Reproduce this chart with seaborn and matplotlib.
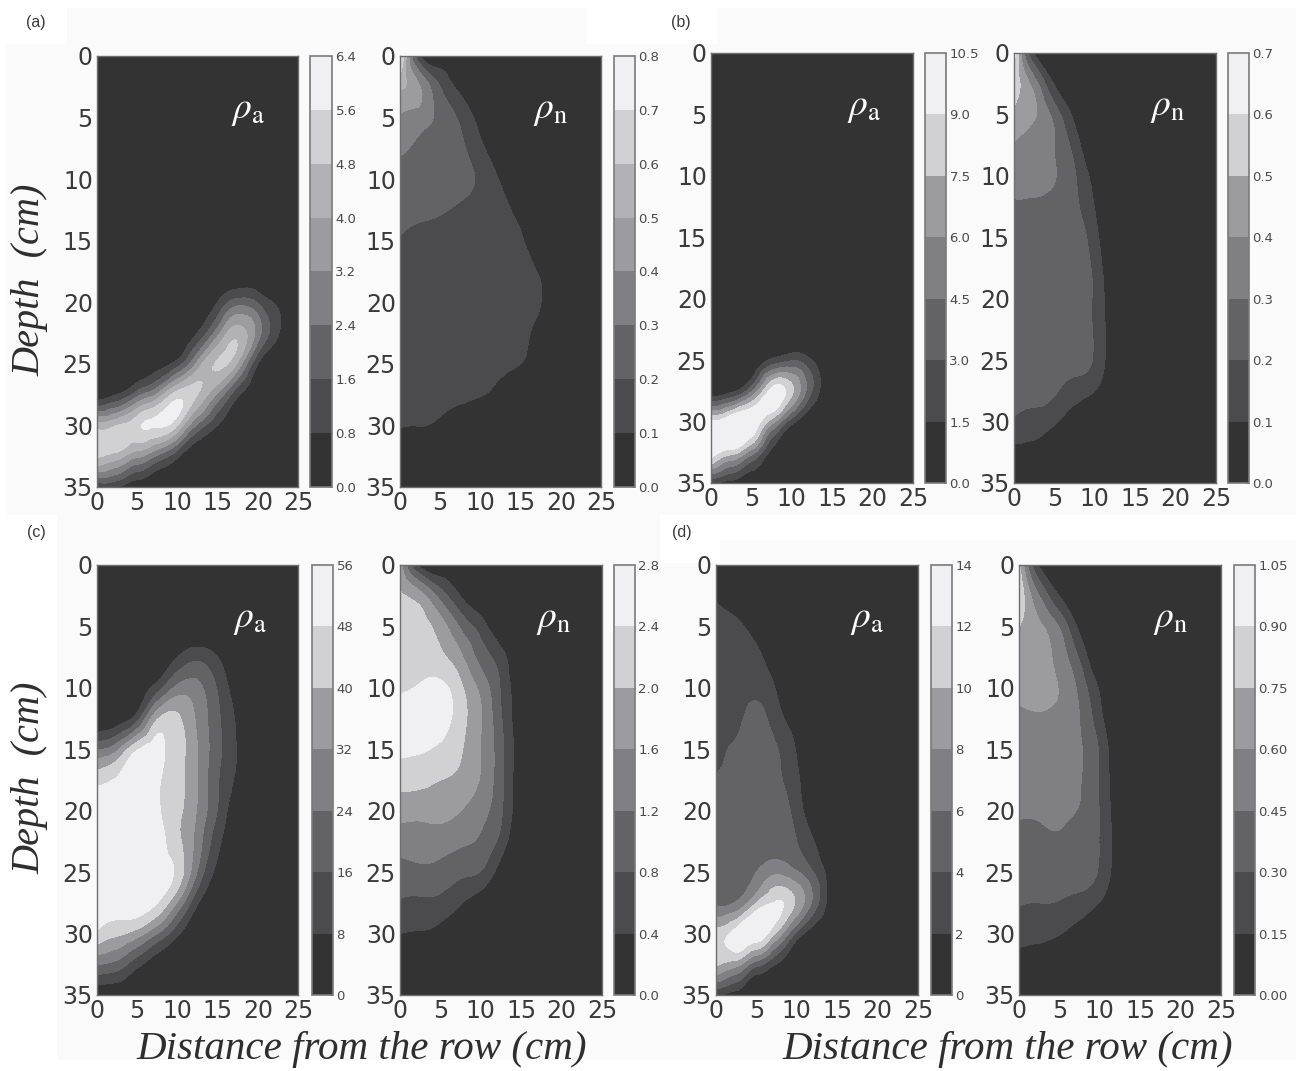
import matplotlib
matplotlib.use("Agg")
import matplotlib.pyplot as plt
import matplotlib.tri as mtri
from matplotlib.patches import Rectangle
from matplotlib.colors import ListedColormap
import numpy as np
import seaborn as sns

W, H = 1307, 1071
distance = [0, 2.5, 5, 7.5, 10, 12.5, 15, 17.5, 20, 22.5, 25]
depth = [0, 2.5, 5, 7.5, 10, 12.5, 15, 17.5, 20, 22.5, 25, 27.5, 30, 32.5, 35]
x_ticks = [0, 5, 10, 15, 20, 25]
y_ticks = [0, 5, 10, 15, 20, 25, 30, 35]

# field values, in multiples of each panel's contour step
a_rho_a = [
 [0,0,0,0,0,0,0,0,0,0,0],[0,0,0,0,0,0,0,0,0,0,0],[0,0,0,0,0,0,0,0,0,0,0],[0,0,0,0,0,0,0,0,0,0,0],
 [0,0,0,0,0,0,0,0,0,0,0],[0,0,0,0,0,0,0,0,0,0,0],[0,0,0,0,0,0,0,0,0,0,0],[0,0,0,0,0,0,0,0,0,0,0],
 [0,0,0,0,0,0,1.0,2.5,1.9,.8,0],
 [0,0,0,0,0,1.0,3.6,5.6,3.5,1.1,0],
 [0,0,0,.5,1.5,4.3,6.1,4.8,1.0,0,0],
 [.2,1,2.6,4.2,6.5,6.0,3.8,1.2,0,0,0],
 [5.5,6.0,6.7,7.1,6,2.8,1,0,0,0,0],
 [6.2,5.5,4.2,2.8,1.2,0,0,0,0,0,0],
 [1,1,.2,0,0,0,0,0,0,0,0]]
a_rho_n = [
 [7.5,.9,.2,0,0,0,0,0,0,0,0],
 [5.2,4.0,2.0,.7,0,0,0,0,0,0,0],
 [3.9,3.5,2.7,1.8,.6,0,0,0,0,0,0],
 [3.1,2.8,2.5,2.2,1.25,.3,0,0,0,0,0],
 [2.7,2.6,2.45,2.3,1.8,.9,.2,0,0,0,0],
 [2.25,2.2,2.1,1.85,1.6,1.25,.7,0,0,0,0],
 [1.95,1.75,1.65,1.6,1.5,1.3,1.1,.3,0,0,0],
 [1.65,1.6,1.55,1.5,1.45,1.35,1.25,.85,0,0,0],
 [1.55,1.5,1.45,1.4,1.4,1.35,1.25,1.02,0,0,0],
 [1.5,1.45,1.4,1.35,1.3,1.25,1.22,.6,0,0,0],
 [1.4,1.4,1.35,1.3,1.25,1.2,1.0,.2,0,0,0],
 [1.3,1.3,1.25,1.2,1.05,.6,0,0,0,0,0],
 [1.05,1.02,.8,.4,.1,0,0,0,0,0,0],
 [.3,.2,.1,0,0,0,0,0,0,0,0],
 [0,0,0,0,0,0,0,0,0,0,0]]
b_rho_a = [
 [0,0,0,0,0,0,0,0,0,0,0],[0,0,0,0,0,0,0,0,0,0,0],[0,0,0,0,0,0,0,0,0,0,0],[0,0,0,0,0,0,0,0,0,0,0],
 [0,0,0,0,0,0,0,0,0,0,0],[0,0,0,0,0,0,0,0,0,0,0],[0,0,0,0,0,0,0,0,0,0,0],[0,0,0,0,0,0,0,0,0,0,0],
 [0,0,0,0,0,0,0,0,0,0,0],[0,0,0,0,0,0,0,0,0,0,0],
 [0,0,0,1.2,1.9,1.0,0,0,0,0,0],
 [0,.7,2.8,6.4,5.2,2.0,0,0,0,0,0],
 [6.2,7.2,7.0,4.5,1.4,0,0,0,0,0,0],
 [6.8,5.5,3.5,.7,0,0,0,0,0,0,0],
 [.9,.6,0,0,0,0,0,0,0,0,0]]
b_rho_n = [
 [6.5,.8,0,0,0,0,0,0,0,0,0],
 [5.6,3.5,.9,0,0,0,0,0,0,0,0],
 [4.8,4.1,2.6,.7,0,0,0,0,0,0,0],
 [3.9,3.5,3.0,1.55,0,0,0,0,0,0,0],
 [3.4,3.3,3.05,2.1,.6,0,0,0,0,0,0],
 [2.85,2.85,2.7,2.25,.95,0,0,0,0,0,0],
 [2.6,2.6,2.55,2.55,1.35,0,0,0,0,0,0],
 [2.5,2.5,2.45,2.5,1.7,0,0,0,0,0,0],
 [2.45,2.45,2.4,2.4,1.8,.2,0,0,0,0,0],
 [2.4,2.4,2.35,2.35,1.85,.25,0,0,0,0,0],
 [2.35,2.35,2.3,2.25,1.85,.2,0,0,0,0,0],
 [2.2,2.2,2.1,1.55,1.0,0,0,0,0,0,0],
 [1.85,1.65,1.15,.4,0,0,0,0,0,0,0],
 [.7,.55,.1,0,0,0,0,0,0,0,0],
 [0,0,0,0,0,0,0,0,0,0,0]]
c_rho_a = [
 [0,0,0,0,0,0,0,0,0,0,0],[0,0,0,0,0,0,0,0,0,0,0],[0,0,0,0,0,0,0,0,0,0,0],
 [0,0,0,0,1.0,1.7,1.0,0,0,0,0],
 [0,0,.4,1.5,3.3,3.3,1.9,.4,0,0,0],
 [0,.4,1.6,4.9,5.2,3.8,2.2,.8,0,0,0],
 [2.9,3.8,5.9,6.3,5.5,4.0,2.3,.9,0,0,0],
 [5.7,6.1,6.4,6.1,5.4,4.0,2.1,.75,0,0,0],
 [6.6,6.6,6.5,6.1,5.3,3.9,1.95,.2,0,0,0],
 [6.6,6.6,6.5,6.3,5.3,3.55,1.3,0,0,0,0],
 [6.6,6.6,6.5,6.4,5.7,2.9,.7,0,0,0,0],
 [6.5,6.5,6.6,6.0,3.9,1.1,0,0,0,0,0],
 [5.8,5.2,4.5,3.0,1.2,0,0,0,0,0,0],
 [3.0,2.6,1.3,.3,0,0,0,0,0,0,0],
 [0,0,0,0,0,0,0,0,0,0,0]]
c_rho_n = [
 [4.5,.6,0,0,0,0,0,0,0,0,0],
 [5.1,4.4,2.6,.95,0,0,0,0,0,0,0],
 [5.4,5.3,4.5,2.85,1.5,.2,0,0,0,0,0],
 [5.6,5.5,5.2,4.2,2.6,1.4,0,0,0,0,0],
 [5.9,6.1,6.3,5.2,3.7,1.9,.3,0,0,0,0],
 [6.3,6.5,6.5,5.4,4.05,2.1,.35,0,0,0,0],
 [6.2,6.1,5.8,5.1,4.0,2.3,.4,0,0,0,0],
 [5.35,5.3,5.0,4.75,3.9,2.25,.35,0,0,0,0],
 [4.4,4.3,4.3,4.0,3.35,2.15,.25,0,0,0,0],
 [3.45,3.5,3.5,3.2,2.85,1.6,0,0,0,0,0],
 [2.6,2.75,2.6,2.2,1.95,.5,0,0,0,0,0],
 [1.9,1.8,1.7,1.1,.4,0,0,0,0,0,0],
 [1.0,.9,.6,0,0,0,0,0,0,0,0],
 [0,0,0,0,0,0,0,0,0,0,0],
 [0,0,0,0,0,0,0,0,0,0,0]]
d_rho_a = [
 [0,0,0,0,0,0,0,0,0,0,0],
 [.9,.5,0,0,0,0,0,0,0,0,0],
 [1.15,1.15,.6,0,0,0,0,0,0,0,0],
 [1.3,1.3,1.2,.4,0,0,0,0,0,0,0],
 [1.4,1.45,1.7,.9,0,0,0,0,0,0,0],
 [1.6,1.75,2.3,1.45,.4,0,0,0,0,0,0],
 [1.75,2.1,2.2,2.05,.9,0,0,0,0,0,0],
 [2.05,2.2,2.25,2.2,1.2,0,0,0,0,0,0],
 [2.15,2.25,2.3,2.5,1.55,0,0,0,0,0,0],
 [2.3,2.35,2.45,2.5,2.0,.8,0,0,0,0,0],
 [2.7,2.75,3.0,3.8,3.1,1.7,0,0,0,0,0],
 [2.8,3.1,5.0,6.1,4.8,2.2,0,0,0,0,0],
 [5.5,6.5,6.9,4.8,1.75,.3,0,0,0,0,0],
 [5.2,4.4,2.4,.95,0,0,0,0,0,0,0],
 [1.0,.5,0,0,0,0,0,0,0,0,0]]
d_rho_n = [
 [5.2,.8,0,0,0,0,0,0,0,0,0],
 [5.8,3.0,.95,0,0,0,0,0,0,0,0],
 [5.0,4.15,2.9,.7,0,0,0,0,0,0,0],
 [4.6,4.4,3.6,1.85,0,0,0,0,0,0,0],
 [4.2,4.3,3.95,2.7,.85,0,0,0,0,0,0],
 [3.85,3.9,3.7,3.0,1.3,0,0,0,0,0,0],
 [3.6,3.55,3.45,3.1,1.85,.1,0,0,0,0,0],
 [3.35,3.35,3.3,3.05,1.85,.25,0,0,0,0,0],
 [3.1,3.1,3.15,2.95,1.95,.3,0,0,0,0,0],
 [2.75,2.8,2.85,2.6,1.95,.4,0,0,0,0,0],
 [2.45,2.45,2.4,2.35,1.85,.3,0,0,0,0,0],
 [2.05,2.0,1.95,1.65,.95,0,0,0,0,0,0],
 [1.4,1.3,1.05,.5,0,0,0,0,0,0,0],
 [.55,.4,.1,0,0,0,0,0,0,0,0],
 [0,0,0,0,0,0,0,0,0,0,0]]

a_a_ticks = ["0.0","0.8","1.6","2.4","3.2","4.0","4.8","5.6","6.4"]
a_n_ticks = ["0.0","0.1","0.2","0.3","0.4","0.5","0.6","0.7","0.8"]
b_a_ticks = ["0.0","1.5","3.0","4.5","6.0","7.5","9.0","10.5"]
b_n_ticks = ["0.0","0.1","0.2","0.3","0.4","0.5","0.6","0.7"]
c_a_ticks = ["0","8","16","24","32","40","48","56"]
c_n_ticks = ["0.0","0.4","0.8","1.2","1.6","2.0","2.4","2.8"]
d_a_ticks = ["0","2","4","6","8","10","12","14"]
d_n_ticks = ["0.00","0.15","0.30","0.45","0.60","0.75","0.90","1.05"]

sns.set_theme(style="white", rc={"axes.grid": False})
INK = "#3a3a3a"
FRAME = "#6e6e6e"
ramp = ["#333333", "#4b4b4d", "#636365", "#808084", "#9c9ca0", "#b2b2b6", "#d1d1d4", "#f0f0f2"]

fig = plt.figure(figsize=(W / 100, H / 100), dpi=100, facecolor="white")


def frac(x0, y0, x1, y1):
    return [x0 / W, 1 - y1 / H, (x1 - x0) / W, (y1 - y0) / H]


for (x0, y0, x1, y1) in [(6, 44, 660, 515), (67, 8, 587, 44), (717, 8, 1296, 515), (660, 44, 1296, 515),
                         (57, 515, 660, 1060), (720, 540, 1296, 1060), (660, 563, 720, 1060)]:
    l, b, w, h = frac(x0, y0, x1, y1)
    fig.add_artist(Rectangle((l, b), w, h, transform=fig.transFigure, fc="#fafafa", ec="none", zorder=-5))

X, Y = np.meshgrid(distance, depth)
tri_mesh = mtri.Triangulation(X.ravel(), Y.ravel())
refiner = mtri.UniformTriRefiner(tri_mesh)


def panel(grid, step, labels, box, cbox, sub, tx):
    n = len(labels) - 1
    cs_levels = [step * k for k in range(n + 1)]
    if n == 7:
        cols = sns.blend_palette(ramp[:4] + [ramp[4]] + ramp[6:], n)
    else:
        cols = ramp
    ax = fig.add_axes(frac(*box))
    Z = np.array(grid, dtype=float) * step
    # smooth contouring of the read values, drawn by matplotlib's own refiner
    fine_tri, fine_z = refiner.refine_field(Z.ravel(), subdiv=3)
    fine_z = np.clip(fine_z, 0, cs_levels[-1] * 0.999)
    cs = ax.tricontourf(fine_tri, fine_z, levels=cs_levels, cmap=ListedColormap(cols))
    ax.set_xlim(0, 25)
    ax.set_ylim(35, 0)
    ax.set_xticks(x_ticks)
    ax.set_yticks(y_ticks)
    ax.tick_params(axis="both", direction="in", length=2, width=.6, color=FRAME,
                   labelsize=17, labelcolor=INK, pad=3)
    for s in ax.spines.values():
        s.set_color(FRAME)
        s.set_linewidth(1.0)
    ax.text(tx, .875, r"$\rho_{\mathrm{%s}}$" % sub, transform=ax.transAxes, color="white",
            fontsize=27, ha="center", va="center", math_fontfamily="stix")
    cax = fig.add_axes(frac(*cbox))
    cb = fig.colorbar(cs, cax=cax)
    cb.set_ticks(cs_levels)
    cb.set_ticklabels(labels)
    cb.ax.tick_params(direction="in", length=2.5, width=.6, color=FRAME, labelsize=9.5, labelcolor="#4a4a4a", pad=2.5)
    cb.outline.set_edgecolor("#7a7a7a")
    cb.outline.set_linewidth(1.2)
    return ax


panel(a_rho_a, 0.8, a_a_ticks, (97, 56, 298, 487), (310, 56, 332, 487), "a", .75)
panel(a_rho_n, 0.1, a_n_ticks, (400, 56, 601, 487), (614, 56, 635, 487), "n", .75)
panel(b_rho_a, 1.5, b_a_ticks, (711, 53, 913, 483), (925, 53, 946, 483), "a", .76)
panel(b_rho_n, 0.1, b_n_ticks, (1014, 53, 1216, 483), (1228, 53, 1249, 483), "n", .76)
panel(c_rho_a, 8, c_a_ticks, (97, 565, 298, 995), (312, 565, 333, 995), "a", .76)
panel(c_rho_n, 0.4, c_n_ticks, (400, 565, 602, 995), (614, 565, 635, 995), "n", .76)
panel(d_rho_a, 2, d_a_ticks, (716, 565, 918, 995), (931, 565, 952, 995), "a", .75)
panel(d_rho_n, 0.15, d_n_ticks, (1019, 565, 1221, 995), (1234, 565, 1255, 995), "n", .75)

serif = dict(family="Liberation Serif", style="italic", color="#2e2e2e", ha="center", va="center")
fig.text(30 / W, 1 - 280 / H, "Depth  (cm)", rotation=90, fontsize=29, **serif)
fig.text(30 / W, 1 - 778 / H, "Depth  (cm)", rotation=90, fontsize=29, **serif)
fig.text(362 / W, 1 - 1050 / H, "Distance from the row (cm)", fontsize=29.5, **serif)
fig.text(1008 / W, 1 - 1050 / H, "Distance from the row (cm)", fontsize=29.5, **serif)

for s, (x, y) in {"(a)": (36, 23), "(b)": (681, 22), "(c)": (36, 532), "(d)": (682, 533)}.items():
    fig.text(x / W, 1 - y / H, s, family="Liberation Sans", fontsize=11.5, color=INK, ha="center", va="center")

fig.savefig("out.png", dpi=100)
